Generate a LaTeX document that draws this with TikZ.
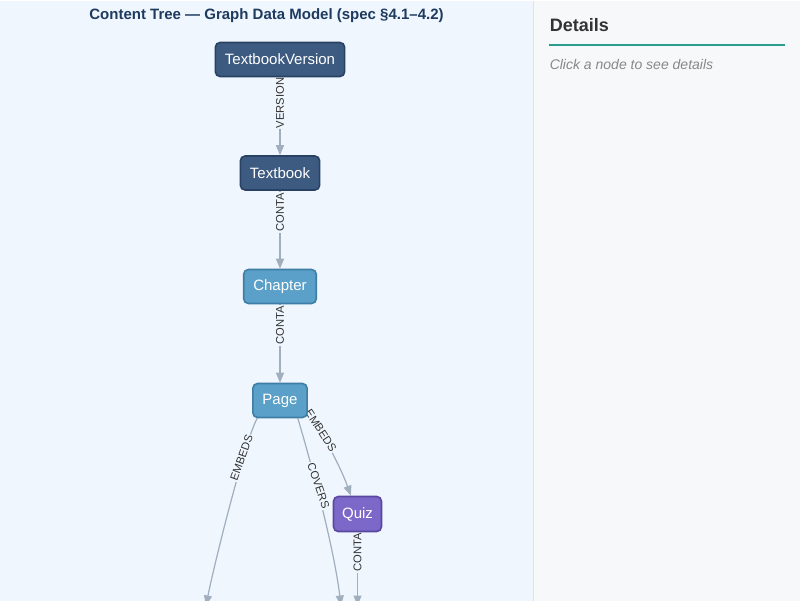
\documentclass[tikz,border=0pt]{standalone}
\usepackage{fontspec}
\setmainfont{Liberation Sans}
\usetikzlibrary{arrows.meta}
\definecolor{leftbg}{RGB}{239,246,254}
\definecolor{rightbg}{RGB}{247,248,250}
\definecolor{divider}{RGB}{222,226,230}
\definecolor{titlecol}{RGB}{30,58,95}
\definecolor{darkfill}{RGB}{61,90,128}
\definecolor{darkdraw}{RGB}{41,65,98}
\definecolor{midfill}{RGB}{91,160,200}
\definecolor{middraw}{RGB}{62,126,166}
\definecolor{quizfill}{RGB}{123,104,200}
\definecolor{quizdraw}{RGB}{90,72,160}
\definecolor{edgecol}{RGB}{160,174,190}
\definecolor{tealline}{RGB}{42,157,143}
\definecolor{labeltext}{RGB}{51,51,51}
\definecolor{hinttext}{RGB}{136,136,136}
\pgfdeclarelayer{bg}
\pgfdeclarelayer{edges}
\pgfsetlayers{bg,edges,main}
\begin{document}
\begin{tikzpicture}[x=0.75pt,y=-0.75pt,
  box/.style={rounded corners=3.5pt, line width=1.2pt, text=white,
    font=\fontsize{11.25}{13}\selectfont, minimum height=25.5pt,
    inner xsep=7.2pt, inner ysep=0pt},
  darkbox/.style={box, fill=darkfill, draw=darkdraw},
  midbox/.style={box, fill=midfill, draw=middraw},
  quizbox/.style={box, fill=quizfill, draw=quizdraw, minimum height=26.25pt, inner xsep=6.4pt},
  edge/.style={draw=edgecol, line width=0.9pt, -{Triangle[length=7.5pt,width=6pt]}},
  elabel/.style={font=\fontsize{8.4}{9}\selectfont, text=labeltext, fill=leftbg, inner sep=0.8pt}
]
\begin{pgfonlayer}{bg}
\fill[leftbg] (0,0) rectangle (533,600);
\fill[rightbg] (533,0) rectangle (800,600);
\draw[divider, line width=0.75pt] (533.5,0) -- (533.5,600);
\end{pgfonlayer}
\useasboundingbox (0,0) rectangle (800,600);

% title
\node[font=\bfseries\fontsize{11.25}{13}\selectfont, text=titlecol] (title) at (266.5,15) {Content Tree — Graph Data Model (spec §4.1–4.2)};

% details panel
\node[font=\bfseries\fontsize{13.5}{16}\selectfont, text=labeltext, anchor=west, inner sep=0pt] (details) at (549.5,25) {Details};
\draw[tealline, line width=1.5pt] (549,44) -- (785,44);
\node[font=\itshape\fontsize{10.5}{12}\selectfont, text=hinttext, anchor=west, inner sep=0pt] (hint) at (549.5,64) {Click a node to see details};

% nodes
\node[darkbox] (tv) at (280,59) {TextbookVersion};
\node[darkbox] (tb) at (280,172.5) {Textbook};
\node[midbox] (ch) at (280,286) {Chapter};
\node[midbox] (pg) at (280,400) {Page};
\node[quizbox] (qz) at (357.5,513.5) {Quiz};
\coordinate (e1) at (206,605);
\coordinate (e2) at (341,605);
\coordinate (e3) at (357.5,605);

\begin{pgfonlayer}{edges}
\begin{scope}
\clip (0,0) rectangle (533,600);
\draw[edge] (tv) -- (tb);
\node[elabel, rotate=90] (l1) at (280,102.5) {VERSION};
\draw[edge] (tb) -- (ch);
\node[elabel, rotate=90] (l2) at (280,212) {CONTA};
\draw[edge] (ch) -- (pg);
\node[elabel, rotate=90] (l3) at (280,325) {CONTA};
\draw[edge] (qz) -- (e3);
\node[elabel, rotate=90] (l4) at (357.5,552) {CONTA};
\draw[edge] (pg.218) .. controls (246,437) and (215,560) .. (e1);
\node[elabel, rotate=70] (l5) at (241.5,457) {EMBEDS};
\draw[edge] (pg.-45) .. controls (306,445) and (333,540) .. (e2);
\node[elabel, rotate=-71] (l6) at (318.5,485) {COVERS};
\draw[edge] (pg.-20) .. controls (324,435) and (341,467.5) .. (qz.110);
\node[elabel, rotate=-57] (l7) at (321,430) {EMBEDS};
\end{scope}
\end{pgfonlayer}
\end{tikzpicture}
\end{document}
